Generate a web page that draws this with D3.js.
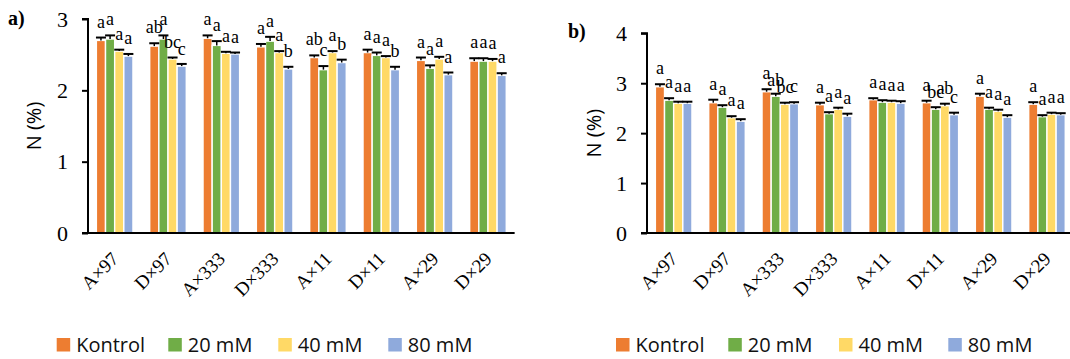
<!DOCTYPE html>
<html><head><meta charset="utf-8">
<script src="https://cdn.jsdelivr.net/npm/d3@7"></script>
<style>body{margin:0;background:#fff}svg{display:block}</style>
</head><body>
<svg id="c" width="1070" height="359"></svg>
<script>
const categories = ["A×97","D×97","A×333","D×333","A×11","D×11","A×29","D×29"];
const seriesNames = ["Kontrol","20 mM","40 mM","80 mM"];
const colors = ["#ED7D31","#70AD47","#FFD966","#8FAADC"];

// Panel a values (rows = categories, cols = series)
const aValues = [
  [2.70,2.72,2.55,2.48],[2.62,2.72,2.44,2.34],[2.73,2.63,2.52,2.51],[2.61,2.69,2.53,2.30],
  [2.46,2.29,2.53,2.39],[2.53,2.49,2.46,2.29],[2.42,2.31,2.44,2.22],[2.41,2.41,2.41,2.21]];
const aErrors = [
  [.04,.05,.02,.03],[.04,.05,.02,.03],[.04,.06,.02,.02],[.04,.06,.02,.03],
  [.03,.05,.02,.04],[.04,.04,.02,.04],[.04,.04,.03,.03],[.04,.04,.03,.03]];
const aLetters = [
  ["a","a","a","a"],["ab","a","bc","c"],["a","a","a","a"],["a","a","a","b"],
  ["ab","c","a","b"],["a","a","a","b"],["a","a","a","a"],["a","a","a","a"]];
const aTicks = [0,1,2,3];

// Panel b values
const bValues = [
  [2.93,2.66,2.60,2.60],[2.61,2.52,2.31,2.24],[2.83,2.74,2.58,2.59],[2.57,2.39,2.48,2.34],
  [2.67,2.62,2.62,2.60],[2.61,2.48,2.55,2.37],[2.74,2.48,2.44,2.32],[2.58,2.33,2.38,2.37]];
const bErrors = [
  [.05,.04,.03,.03],[.06,.04,.03,.04],[.05,.05,.03,.03],[.04,.03,.03,.05],
  [.03,.04,.03,.04],[.04,.04,.04,.04],[.05,.03,.03,.04],[.04,.03,.03,.03]];
const bLetters = [
  ["a","a","a","a"],["a","a","a","a"],["a","ab","bc","c"],["a","a","a","a"],
  ["a","a","a","a"],["a","bc","ab","c"],["a","a","a","a"],["a","a","a","a"]];
const bTicks = [0,1,2,3,4];

const svg = d3.select("#c");
const serif = "'Liberation Serif','Times New Roman',serif";
const sans = "'Open Sans','Liberation Sans',sans-serif";

function panel(cfg){
  const g = svg.append("g");
  const x0 = d3.scaleBand().domain(categories).range([cfg.left, cfg.left + 8*53.33]).paddingInner(0.314).paddingOuter(0.157);
  const x1 = d3.scaleBand().domain(seriesNames).range([0, x0.bandwidth()]);
  const y = d3.scaleLinear().domain([0, cfg.max]).range([233, cfg.top]);

  categories.forEach((c, i) => {
    const gg = g.append("g").attr("transform", `translate(${x0(c)},0)`);
    gg.selectAll("rect").data(cfg.values[i]).join("rect")
      .attr("x", (d, j) => x1(seriesNames[j]))
      .attr("width", x1.bandwidth())
      .attr("y", d => y(d))
      .attr("height", d => y(0) - y(d))
      .attr("fill", (d, j) => colors[j])
      .attr("stroke", "#fff").attr("stroke-width", 1.4);
    const labels = [];
    cfg.values[i].forEach((v, j) => {
      const cx = x1(seriesNames[j]) + x1.bandwidth()/2;
      const top = y(v + cfg.errors[i][j]);
      gg.append("line").attr("x1", cx).attr("x2", cx).attr("y1", y(v)).attr("y2", top)
        .attr("stroke", "#000").attr("stroke-width", 1.5);
      gg.append("line").attr("x1", cx-5).attr("x2", cx+5).attr("y1", top).attr("y2", top)
        .attr("stroke", "#000").attr("stroke-width", 2);
      const t = cfg.letters[i][j];
      let ly = top - 10;
      const w = t.length * 8.5;
      const prev = labels[j-1];
      if (prev && (prev.w + w)/2 > 10.5 && top > prev.top && Math.abs(prev.y - ly) < 12) {
        ly = Math.min(Math.max(ly, prev.y + 7), top - 3);
      }
      labels.push({y: ly, w, top});
      gg.append("text").attr("x", cx).attr("y", ly)
        .attr("text-anchor", "middle").attr("font-family", serif).attr("font-size", 18)
        .attr("fill", "#000").text(t);
    });
  });

  // y axis
  const ya = g.append("g").attr("transform", `translate(${cfg.left},0)`)
    .call(d3.axisLeft(y).tickValues(cfg.ticks).tickFormat(d3.format("d")).tickSize(6).tickPadding(14));
  ya.select(".domain").attr("d", `M-6,${y(cfg.max)}H0V${y(0)}`).attr("stroke-width", 2);
  ya.selectAll(".tick line").attr("stroke-width", 2);
  ya.selectAll("text").attr("font-family", serif).attr("font-size", 22).attr("fill", "#000");

  // x axis
  g.append("line").attr("x1", cfg.left - 6).attr("x2", Math.min(cfg.left + 8*53.33, 1070))
    .attr("y1", y(0)).attr("y2", y(0)).attr("stroke", "#000").attr("stroke-width", 2);
  g.selectAll(".xl").data(categories).join("text").attr("class", "xl")
    .attr("transform", d => `translate(${x0(d) + x0.bandwidth()/2 + 5},${y(0) + 27}) rotate(-45)`)
    .attr("text-anchor", "end").attr("font-family", serif).attr("font-size", 19).attr("fill", "#000")
    .text(d => d);

  // y title
  g.append("text").attr("transform", `translate(${cfg.titleX},${(233 + cfg.top)/2}) rotate(-90)`)
    .attr("text-anchor", "middle").attr("font-family", sans).attr("font-size", 20).attr("fill", "#000")
    .text("N (%)");

  // panel label
  g.append("text").attr("x", cfg.labX).attr("y", cfg.labY).attr("font-family", serif)
    .attr("font-weight", "bold").attr("font-size", 20).attr("fill", "#000").text(cfg.label);

  // legend
  const lg = g.append("g");
  seriesNames.forEach((s, j) => {
    lg.append("rect").attr("x", cfg.legX[j]).attr("y", 338).attr("width", 13.5).attr("height", 13.5).attr("fill", colors[j]);
    lg.append("text").attr("x", cfg.legX[j] + 19.5).attr("y", 352).attr("font-family", sans)
      .attr("font-size", 20).attr("fill", "#111").text(s);
  });
}

panel({left: 88, top: 19, max: 3, ticks: aTicks, values: aValues, errors: aErrors, letters: aLetters,
  titleX: 41, labX: 8, labY: 25, label: "a)", legX: [56.7, 168.3, 278.3, 388.3]});
panel({left: 647, top: 33.3, max: 4, ticks: bTicks, values: bValues, errors: bErrors, letters: bLetters,
  titleX: 601, labX: 568, labY: 38, label: "b)", legX: [616, 728.3, 839, 948.3]});
</script>
</body></html>
